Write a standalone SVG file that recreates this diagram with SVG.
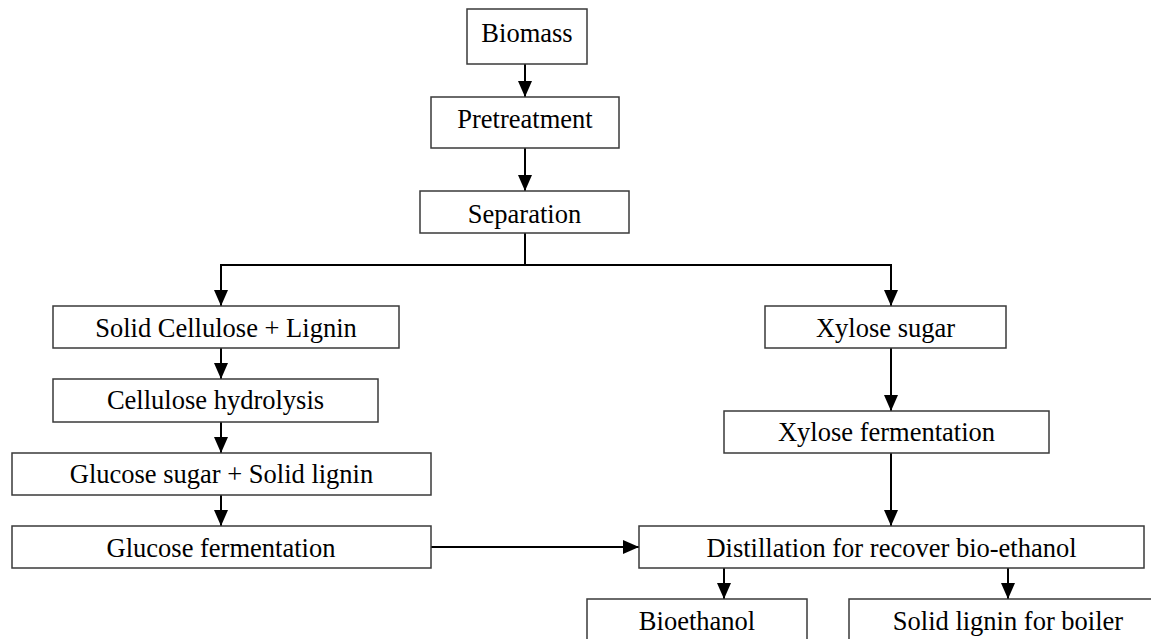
<svg xmlns="http://www.w3.org/2000/svg" width="1151" height="639" viewBox="0 0 1151 639">
<style>
.box{fill:#fff;stroke:#3a3a3a;stroke-width:1.5}
.lbl{font-family:"Liberation Serif","Times New Roman",serif;font-size:26.5px;fill:#000;text-anchor:middle}
.con{stroke:#000;stroke-width:2;fill:none}
</style>
<defs>
<marker id="ah" markerUnits="userSpaceOnUse" markerWidth="16" markerHeight="14" refX="16" refY="7" orient="auto">
<path d="M0,0 L16,7 L0,14 z" fill="#000"/>
</marker>
</defs>
<rect width="1151" height="639" fill="#fff"/>
<g id="connectors">
<line class="con" x1="525" y1="64" x2="525" y2="97" marker-end="url(#ah)"/>
<line class="con" x1="525" y1="148" x2="525" y2="191" marker-end="url(#ah)"/>
<line class="con" x1="525" y1="233" x2="525" y2="265"/>
<line class="con" x1="220" y1="265" x2="892" y2="265"/>
<line class="con" x1="221" y1="265" x2="221" y2="306" marker-end="url(#ah)"/>
<line class="con" x1="891" y1="265" x2="891" y2="306" marker-end="url(#ah)"/>
<line class="con" x1="221" y1="348" x2="221" y2="379" marker-end="url(#ah)"/>
<line class="con" x1="221" y1="422" x2="221" y2="453" marker-end="url(#ah)"/>
<line class="con" x1="221" y1="495" x2="221" y2="526" marker-end="url(#ah)"/>
<line class="con" x1="891" y1="348" x2="891" y2="411" marker-end="url(#ah)"/>
<line class="con" x1="891" y1="453" x2="891" y2="526" marker-end="url(#ah)"/>
<line class="con" x1="431" y1="547" x2="639" y2="547" marker-end="url(#ah)"/>
<line class="con" x1="724" y1="568" x2="724" y2="599" marker-end="url(#ah)"/>
<line class="con" x1="1008" y1="568" x2="1008" y2="599" marker-end="url(#ah)"/>
</g>
<g id="biomass"><rect class="box" x="467" y="9" width="120" height="55"/><text class="lbl" x="527" y="42">Biomass</text></g>
<g id="pretreatment"><rect class="box" x="431" y="97" width="188" height="51"/><text class="lbl" x="525" y="128">Pretreatment</text></g>
<g id="separation"><rect class="box" x="420" y="191" width="209" height="42"/><text class="lbl" x="524.5" y="223">Separation</text></g>
<g id="solid-cellulose"><rect class="box" x="53" y="306" width="346" height="42"/><text class="lbl" x="226" y="337">Solid Cellulose + Lignin</text></g>
<g id="cellulose-hydrolysis"><rect class="box" x="53" y="379" width="325" height="43"/><text class="lbl" x="215.5" y="409">Cellulose hydrolysis</text></g>
<g id="glucose-sugar"><rect class="box" x="12" y="453" width="419" height="42"/><text class="lbl" x="221.5" y="483">Glucose sugar + Solid lignin</text></g>
<g id="glucose-fermentation"><rect class="box" x="12" y="526" width="419" height="42"/><text class="lbl" x="221" y="557">Glucose fermentation</text></g>
<g id="xylose-sugar"><rect class="box" x="765" y="306" width="241" height="42"/><text class="lbl" x="885.5" y="337">Xylose sugar</text></g>
<g id="xylose-fermentation"><rect class="box" x="724" y="411" width="325" height="42"/><text class="lbl" x="886.5" y="441">Xylose fermentation</text></g>
<g id="distillation"><rect class="box" x="639" y="526" width="505" height="42"/><text class="lbl" x="891.5" y="557">Distillation for recover bio-ethanol</text></g>
<g id="bioethanol"><rect class="box" x="587" y="599" width="220" height="44"/><text class="lbl" x="697" y="630">Bioethanol</text></g>
<g id="solid-lignin"><rect class="box" x="849" y="599" width="318" height="44"/><text class="lbl" x="1008" y="630">Solid lignin for boiler</text></g>
</svg>
